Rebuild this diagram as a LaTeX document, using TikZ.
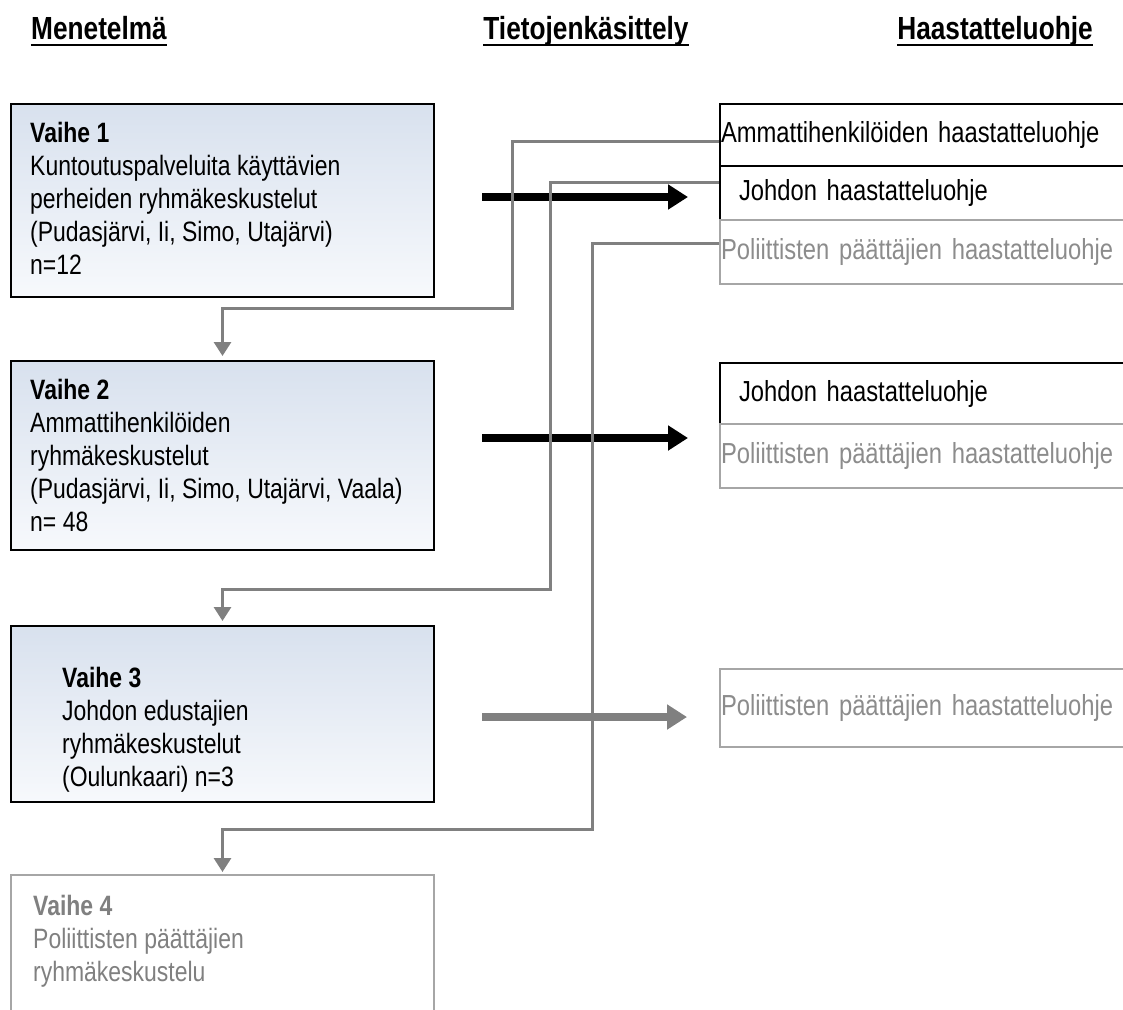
\documentclass[tikz,border=0pt]{standalone}
\usepackage{fontspec}
\setmainfont{Liberation Sans}[FakeStretch=0.82]
\usetikzlibrary{positioning,arrows.meta}

\definecolor{linegray}{HTML}{808080}
\definecolor{palegray}{HTML}{A6A6A6}
\definecolor{textgray}{HTML}{8C8C8C}
\definecolor{shadetop}{HTML}{D8E1EE}
\definecolor{shadebot}{HTML}{F7F9FC}
\newcommand\tightsp{\spaceskip 0.23em\relax}

\begin{document}
\begin{tikzpicture}[x=1pt,y=1pt,>=Stealth,
  head/.style={font=\fontsize{32}{36}\selectfont\bfseries,inner sep=0pt,anchor=base},
  rule/.style={line width=2.6pt},
  phase/.style={draw=black,line width=2pt,top color=shadetop,bottom color=shadebot,
    minimum width=423pt,anchor=north west,inner sep=0pt},
  phaseoff/.style={draw=palegray,line width=2pt,fill=white,
    minimum width=423pt,anchor=north west,inner sep=0pt},
  body/.style={font=\fontsize{28}{33}\selectfont\tightsp,align=left,inner sep=0pt,anchor=north west},
  guide/.style={draw=black,line width=2pt,font=\fontsize{29}{33}\selectfont\tightsp,
    text width=440pt,align=left,inner xsep=1pt,inner ysep=0pt,anchor=north west},
  guideoff/.style={guide,draw=palegray,text=textgray},
  link/.style={draw=linegray,line width=3pt,-{Triangle[length=14pt,width=17pt]}},
  fat/.style={line width=8pt,-{Triangle[length=20pt,width=24pt]}}]
\useasboundingbox (0,0) rectangle (1123,-1009);

% column titles
\node[head] (tmet) at (99,-39) {Menetelmä};
\node[head] (ttie) at (586,-39) {Tietojenkäsittely};
\node[head] (thaa) at (995,-39) {Haastatteluohje};
\foreach \t in {tmet,ttie,thaa}
  \draw[rule] ([yshift=-6pt]\t.base west) -- ([yshift=-6pt]\t.base east);

% phases
\node[phase,minimum height=193pt] (v1) at (10,-103) {};
\node[phase,minimum height=189pt] (v2) at (10,-360) {};
\node[phase,minimum height=176pt] (v3) at (10,-625) {};
\node[phaseoff,minimum height=170pt] (v4) at (10,-874) {};

\node[body] (v1t) at ([shift={(20,-19)}]v1.north west)
  {\textbf{Vaihe 1}\\Kuntoutuspalveluita käyttävien\\perheiden ryhmäkeskustelut\\(Pudasjärvi, Ii, Simo, Utajärvi)\\n=12};
\node[body] (v2t) at ([shift={(20,-19)}]v2.north west)
  {\textbf{Vaihe 2}\\Ammattihenkilöiden\\ryhmäkeskustelut\\(Pudasjärvi, Ii, Simo, Utajärvi, Vaala)\\n= 48};
\node[body] (v3t) at ([shift={(52,-42)}]v3.north west)
  {\textbf{Vaihe 3}\\Johdon edustajien\\ryhmäkeskustelut\\(Oulunkaari) n=3};
\node[body,text=linegray] (v4t) at ([shift={(23,-21)}]v4.north west)
  {\textbf{Vaihe 4}\\Poliittisten päättäjien\\ryhmäkeskustelu};

% interview guides
\node[guide,minimum height=62pt] (amm1) at (719,-103) {Ammattihenkilöiden haastatteluohje};
\node[guide,minimum height=54pt] (joh1) at (719,-165) {\hspace*{18pt}Johdon haastatteluohje};
\node[guideoff,minimum height=64pt] (pol1) at (719,-219) {Poliittisten päättäjien haastatteluohje};

\node[guide,minimum height=61pt] (joh2) at (719,-362) {\hspace*{18pt}Johdon haastatteluohje};
\node[guideoff,minimum height=64pt] (pol2) at (719,-423) {Poliittisten päättäjien haastatteluohje};

\node[guideoff,minimum height=78pt] (pol3) at (719,-668) {Poliittisten päättäjien haastatteluohje};

% processing arrows
\draw[fat] ([xshift=47pt,yshift=3.5pt]v1.east) -- ([xshift=-31pt,yshift=3.5pt]v1.east -| joh1.west);
\draw[fat] ([xshift=47pt,yshift=17.5pt]v2.east) -- ([xshift=-31pt,yshift=17.5pt]v2.east -| joh2.west);
\draw[fat,linegray] ([xshift=47pt,yshift=-3pt]v3.east) -- ([xshift=-32pt,yshift=-3pt]v3.east -| pol3.west);

% feedback to next phase
\coordinate (k1) at (512,-308);
\coordinate (k2) at (550,-589);
\coordinate (k3) at (592,-829);
\draw[link,shorten >=4pt] ([yshift=-6pt]amm1.west) -| (k1) -| (v2.north);
\draw[link,shorten >=4pt] ([yshift=11pt]joh1.west) -| (k2) -| (v3.north);
\draw[link,shorten >=2pt] ([yshift=9pt]pol1.west) -| (k3) -| (v4.north);
\end{tikzpicture}
\end{document}
